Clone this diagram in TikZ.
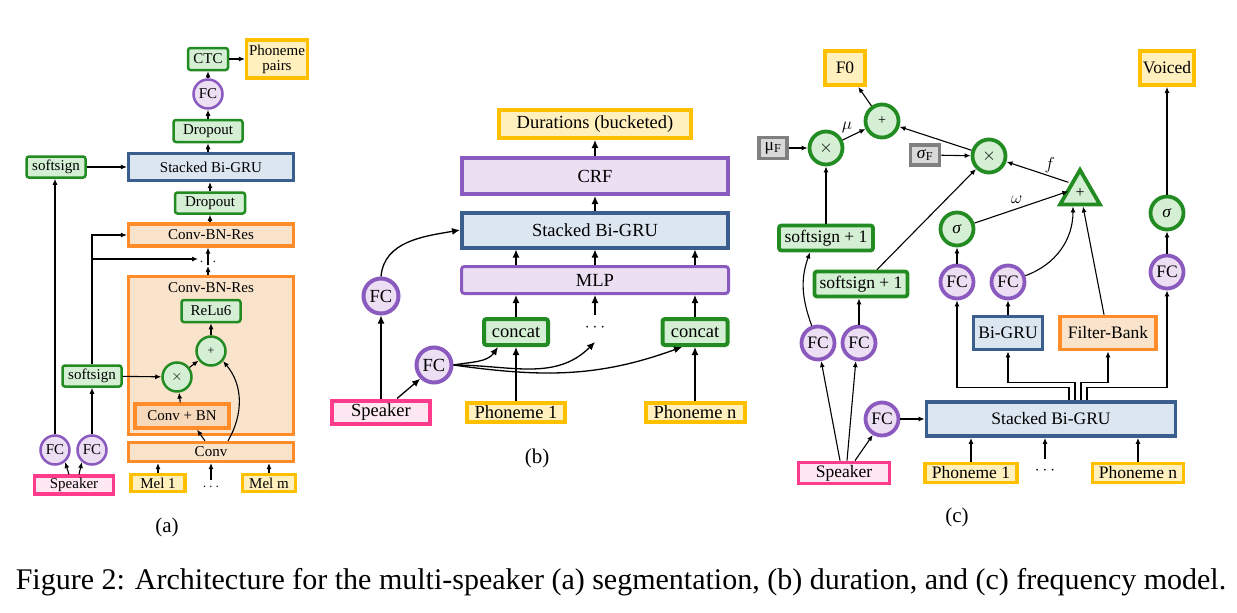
\documentclass[tikz,border=0pt]{standalone}
\usepackage{fontspec}
\setmainfont{Liberation Serif}
\usetikzlibrary{arrows.meta,shapes.geometric}
\definecolor{gfill}{HTML}{D5EFD5}
\definecolor{gdraw}{HTML}{228B22}
\definecolor{pfill}{HTML}{ECDFF3}
\definecolor{pdraw}{HTML}{8B5ABF}
\definecolor{bfill}{HTML}{DCE6F1}
\definecolor{bdraw}{HTML}{3A5F8E}
\definecolor{ofill}{HTML}{F9E3CB}
\definecolor{ofilltwo}{HTML}{F6D9BA}
\definecolor{odraw}{HTML}{FF8C28}
\definecolor{yfill}{HTML}{FFF0BE}
\definecolor{ydraw}{HTML}{FFC000}
\definecolor{kfill}{HTML}{FDE7F1}
\definecolor{kdraw}{HTML}{FF3B8B}
\definecolor{sfill}{HTML}{D9D9D9}
\definecolor{sdraw}{HTML}{808080}
\tikzset{
  base/.style={inner sep=0pt, align=center},
  gbox/.style={base, draw=gdraw, fill=gfill, rounded corners=2.5pt},
  pbox/.style={base, draw=pdraw, fill=pfill},
  bbox/.style={base, draw=bdraw, fill=bfill},
  obox/.style={base, draw=odraw, fill=ofill},
  ybox/.style={base, draw=ydraw, fill=yfill},
  kbox/.style={base, draw=kdraw, fill=kfill},
  sbox/.style={base, draw=sdraw, fill=sfill},
  gcirc/.style={base, circle, draw=gdraw, fill=gfill},
  pcirc/.style={base, circle, draw=pdraw, fill=pfill},
  gtri/.style={base, regular polygon, regular polygon sides=3, draw=gdraw, fill=gfill},
  sz/.style 2 args={minimum width=#1, minimum height=#2},
  pa/.style={line width=3.2pt, font=\fontsize{15}{17}\selectfont},
  thin/.style={line width=2.5pt},
  pb/.style={line width=4pt, font=\fontsize{18.5}{21}\selectfont},
  pc/.style={line width=3.8pt, font=\fontsize{17.5}{20}\selectfont},
  arr/.style={-{Latex[length=6pt,width=5pt]}, line width=1.1pt, black, rounded corners=0pt},
  arrb/.style={-{Latex[length=8pt,width=7pt]}, line width=1.3pt, black, rounded corners=0pt},
  sublab/.style={font=\fontsize{21}{24}\selectfont},
  lbl/.style={font=\fontsize{17}{19}\selectfont},
}
\begin{document}
\begin{tikzpicture}[x=1pt,y=-1pt]
\useasboundingbox (0,0) rectangle (1237,613);
\fill[white] (0,0) rectangle (1237,613);

% ---------------- Panel (a)
\begin{scope}[pa]
\node[obox, sz={165}{158}] (ares2) at (211,355.5) {};
\node (aresl) at (211,288) {Conv-BN-Res};
\node[gbox, thin, sz={59}{22}] (arelu) at (211,311) {ReLu6};
\node[gcirc, thin, minimum size=29] (aplus) at (211,351) {\fontsize{12}{12}\selectfont +};
\node[gcirc, thin, minimum size=29] (atimes) at (177,377) {$\times$};
\node[obox, sz={94}{24}, fill=ofilltwo] (aconvbn) at (182,416) {Conv + BN};
\node[obox, sz={165}{19}] (aconv) at (211,452) {Conv};
\node[gbox, thin, sz={40}{22}] (actc) at (208,59) {CTC};
\node[ybox, sz={61}{38}] (aph) at (277,59) {Phoneme\\[-2pt]pairs};
\node[pcirc, thin, minimum size=29] (afc) at (208,94) {FC};
\node[gbox, thin, sz={69}{22}] (adrop1) at (208,131) {Dropout};
\node[bbox, sz={165}{27}] (agru) at (211,167) {Stacked Bi-GRU};
\node[gbox, thin, sz={59}{21}] (asoft1) at (56,167) {softsign};
\node[gbox, thin, sz={70}{21}] (adrop2) at (210,203) {Dropout};
\node[obox, sz={165}{22}] (ares1) at (211,235) {Conv-BN-Res};
\node (adots) at (208,262) {$\cdots$};
\node[gbox, thin, sz={59}{21}] (asoft2) at (92,376) {softsign};
\node[pcirc, thin, minimum size=29] (afc1) at (55,450) {FC};
\node[pcirc, thin, minimum size=29] (afc2) at (92,450) {FC};
\node[kbox, sz={79}{18}] (aspk) at (74,485) {Speaker};
\node[ybox, sz={54}{17}] (amel1) at (158,483) {Mel 1};
\node (amdots) at (211,487) {$\cdots$};
\node[ybox, sz={53}{17}] (amelm) at (269,483) {Mel m};
\node[sublab] (alab) at (167,527) {(a)};
\end{scope}
\draw[arr] (actc) -- (aph);
\draw[arr] (afc) -- (actc);
\draw[arr] (adrop1) -- (afc);
\draw[arr] (adrop1 |- agru.north) -- (adrop1.south);
\draw[arr] (adrop2.north) -- (adrop2.north |- agru.south);
\draw[arr] (adrop2 |- ares1.north) -- (adrop2.south);
\draw[arr] ([yshift=-3]adots.center) -- (adots.center |- ares1.south);
\draw[arr] (adots.center |- ares2.north) -- ([yshift=-4]adots.center);
\draw[arr] (asoft1) -- (agru);
\draw[arr] (afc1.north) -- (afc1.north |- asoft1.south);
\draw[arr] (afc2) -- (asoft2);
\draw[arr] (asoft2.north) |- (ares1.west);
\draw[arr] (asoft2.north) |- ([xshift=-10,yshift=3]adots.center);
\draw[arr] (asoft2) -- (atimes);
\draw[arr] (aconvbn) -- (atimes);
\draw[arr] (atimes) -- (aplus);
\draw[arr] (aplus) -- (arelu);
\draw[arr] ([xshift=-6]aconv.north) -- ([xshift=15]aconvbn.south);
\draw[arr] ([xshift=17]aconv.north) to[out=60,in=-50] (aplus.-40);
\draw[arr] ([xshift=-5]aspk.north) -- (afc1.-50);
\draw[arr] ([xshift=5]aspk.north) -- (afc2.-130);
\draw[arr] (amel1) -- (amel1 |- aconv.south);
\draw[arr] ([yshift=7]amdots.center) -- (amdots.center |- aconv.south);
\draw[arr] (amelm) -- (amelm |- aconv.south);

% ---------------- Panel (b)
\begin{scope}[pb]
\node[ybox, sz={192}{28}] (bdur) at (595,124) {Durations (bucketed)};
\node[pbox, sz={266}{36}] (bcrf) at (595,176) {CRF};
\node[bbox, sz={266}{35}] (bgru) at (595,230) {Stacked Bi-GRU};
\node[pbox, sz={267}{27}, rounded corners=3pt, line width=3pt] (bmlp) at (595,280) {MLP};
\node[gbox, sz={64}{26}] (bcat1) at (516,332) {concat};
\node (bdots) at (595,328) {$\cdots$};
\node[gbox, sz={65}{26}] (bcatn) at (695,332) {concat};
\node[pcirc, minimum size=35] (bfc1) at (381,296) {FC};
\node[pcirc, minimum size=35] (bfc2) at (434,365) {FC};
\node[kbox, sz={98}{23}] (bspk) at (381,412) {Speaker};
\node[ybox, sz={98}{19}] (bph1) at (516,412) {Phoneme 1};
\node[ybox, sz={99}{19}] (bphn) at (695,412) {Phoneme n};
\node[sublab] (blab) at (537,458) {(b)};
\end{scope}
\draw[arrb] (bcrf) -- (bdur);
\draw[arrb] (bgru) -- (bcrf);
\draw[arrb] (bcat1 |- bmlp.north) -- (bcat1 |- bgru.south);
\draw[arrb] (bdots |- bmlp.north) -- (bdots |- bgru.south);
\draw[arrb] (bcatn |- bmlp.north) -- (bcatn |- bgru.south);
\draw[arrb] (bcat1.north) -- (bcat1 |- bmlp.south);
\draw[arrb] ([yshift=13]bdots.center) -- (bdots |- bmlp.south);
\draw[arrb] (bcatn.north) -- (bcatn |- bmlp.south);
\draw[arrb] (bph1) -- (bcat1);
\draw[arrb] (bphn) -- (bcatn);
\draw[arrb] (bspk) -- (bfc1);
\draw[arrb] ([xshift=16]bspk.north) -- (bfc2.225);
\draw[arrb] (bfc1.north) to[out=85,in=190] (bgru.west);
\draw[arrb] (bfc2.east) to[out=10,in=235] ([xshift=-18]bcat1.south);
\draw[arrb] (bfc2.east) to[out=0,in=225] ([yshift=-14]bdots.center);
\draw[arrb] (bfc2.east) to[out=-8,in=200] ([xshift=-13]bcatn.south);

% ---------------- Panel (c)
\begin{scope}[pc]
\node[ybox, sz={40}{34}] (cf0) at (845,68) {F0};
\node[ybox, sz={54}{34}] (cvoi) at (1167,68) {Voiced};
\node[gcirc, minimum size=33] (cplus) at (882,121) {\fontsize{14}{14}\selectfont +};
\node[gcirc, minimum size=33] (ctimes1) at (826,148) {$\times$};
\node[sbox, sz={28}{21}] (cmuf) at (773,148) {μ\textsubscript{F}};
\node[sbox, sz={29}{20}] (csigf) at (925,155) {\textit{σ}\textsubscript{F}};
\node[gcirc, minimum size=33] (ctimes2) at (989,156) {$\times$};
\node[gtri, minimum size=46] (ctri) at (1080,193) {\fontsize{16}{16}\selectfont +};
\node[gcirc, minimum size=33] (csig1) at (957,229) {\textit{σ}};
\node[gcirc, minimum size=33] (csig2) at (1167,213) {\textit{σ}};
\node[gbox, sz={94}{25}] (csoft1) at (826,238) {softsign + 1};
\node[gbox, sz={93}{25}] (csoft2) at (861,284) {softsign + 1};
\node[pcirc, minimum size=33] (cfc1) at (957,282) {FC};
\node[pcirc, minimum size=33] (cfc2) at (1008,282) {FC};
\node[pcirc, minimum size=33] (cfc3) at (1167,272) {FC};
\node[bbox, sz={69}{33}] (cbigru) at (1008,333) {Bi-GRU};
\node[obox, sz={96}{33}] (cfb) at (1108,333) {Filter-Bank};
\node[pcirc, minimum size=33] (cfl) at (818,343) {FC};
\node[pcirc, minimum size=33] (cfr) at (859,343) {FC};
\node[pcirc, minimum size=33] (cfcs) at (882,419) {FC};
\node[bbox, sz={249}{34}] (cgru) at (1051,419) {Stacked Bi-GRU};
\node[kbox, sz={91}{21}] (cspk) at (844,473) {Speaker};
\node[ybox, sz={92}{19}] (cph1) at (971,473) {Phoneme 1};
\node (cdots) at (1045,471) {$\cdots$};
\node[ybox, sz={91}{19}] (cphn) at (1138,473) {Phoneme n};
\node[sublab] (clab) at (957,517) {(c)};
\end{scope}
\draw[arr] (cph1) -- (cph1 |- cgru.south);
\draw[arr] ([yshift=12]cdots.center) -- (cdots |- cgru.south);
\draw[arr] (cphn) -- (cphn |- cgru.south);
\draw[arr] ([xshift=-4]cspk.north) -- (cfl.-80);
\draw[arr] ([xshift=3]cspk.north) -- (cfr.-100);
\draw[arr] ([xshift=11]cspk.north) -- (cfcs.240);
\draw[arr] (cfcs) -- (cgru);
\draw[arr] (cfl.110) to[out=110,in=-110] ([xshift=-16]csoft1.south);
\draw[arr] (cfr) -- (cfr |- csoft2.south);
\draw[arr] (csoft1) -- (ctimes1);
\draw[arr] ([xshift=16]csoft2.north) -- (ctimes2.225);
\draw[arr] (cmuf) -- (ctimes1);
\draw[arr] (ctimes1) -- node[lbl, above left=-2pt] {$\mu$} (cplus);
\draw[arr] (cplus) -- (cf0);
\draw[arr] (ctimes2) -- (cplus);
\draw[arr] (csigf) -- (ctimes2);
\draw[arr] ([yshift=4]ctri.side 1) -- node[lbl, pos=0.4, above right=-3pt] {$f$} (ctimes2);
\draw[arr] (csig1) -- node[lbl, pos=0.45, above=1pt] {$\omega$} ([yshift=-5]ctri.side 1);
\draw[arr] (cfc2.20) to[out=20,in=-90] ([xshift=-7]ctri.side 2);
\draw[arr] ([xshift=-4]cfb.north) -- ([xshift=3]ctri.side 2);
\draw[arr] ([xshift=18]cgru.north) -- ++(0,-13) -| (cfc1.south);
\draw[arr] ([xshift=24]cgru.north) -- ++(0,-18) -| (cbigru.south);
\draw[arr] ([xshift=30]cgru.north) -- ++(0,-18) -| (cfb.south);
\draw[arr] ([xshift=36]cgru.north) -- ++(0,-13) -| (cfc3.south);
\draw[arr] (cfc1) -- (csig1);
\draw[arr] (cbigru) -- (cfc2);
\draw[arr] (cfc3) -- (csig2);
\draw[arr] (csig2) -- (cvoi);

% ---------------- Caption
\node[font=\fontsize{30}{34}\selectfont, anchor=base] (cap) at (621,589) {Figure 2: Architecture for the multi-speaker (a) segmentation, (b) duration, and (c) frequency model.};
\end{tikzpicture}
\end{document}
